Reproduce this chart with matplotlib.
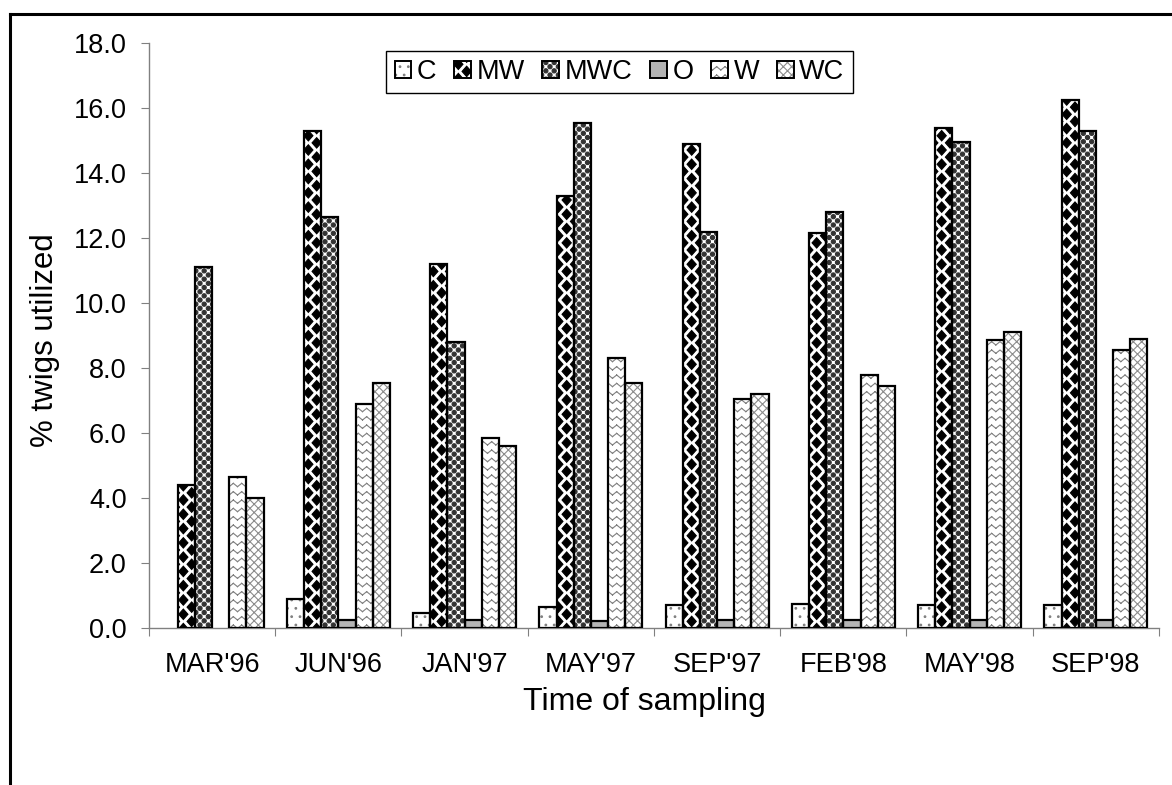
import warnings
import numpy as np
import matplotlib
matplotlib.use('Agg')
import matplotlib.pyplot as plt
from matplotlib import hatch as mhatch
from matplotlib.path import Path
from matplotlib.patches import Patch
from matplotlib.lines import Line2D
from matplotlib.legend_handler import HandlerTuple

warnings.filterwarnings('ignore')  # custom hatch letters raise a deprecation warning

# % twigs utilized per treatment and sampling date
dates = ["MAR'96", "JUN'96", "JAN'97", "MAY'97", "SEP'97", "FEB'98", "MAY'98", "SEP'98"]
treatments = ['C', 'MW', 'MWC', 'O', 'W', 'WC']
C = [np.nan, 0.9, 0.45, 0.65, 0.7, 0.75, 0.7, 0.7]
MW = [4.4, 15.3, 11.2, 13.3, 14.9, 12.15, 15.4, 16.25]
MWC = [11.1, 12.65, 8.8, 15.55, 12.2, 12.8, 14.95, 15.3]
O = [np.nan, 0.25, 0.25, 0.22, 0.25, 0.25, 0.26, 0.25]
W = [4.65, 6.9, 5.85, 8.3, 7.05, 7.8, 8.85, 8.55]
WC = [4.0, 7.55, 5.6, 7.55, 7.2, 7.45, 9.1, 8.9]
series = [C, MW, MWC, O, W, WC]


# --- Excel-like fill patterns, added as extra hatch letters ---
class LatticeHatch(mhatch.HatchPatternBase):
    char, nx, ny = None, 6, 14
    verts, vcodes = None, None

    def __init__(self, hatch, density):
        n = hatch.count(self.char) if hatch else 0
        self.centres = []
        if n:
            nx, ny = self.nx * n, self.ny * n
            for j in range(ny + 1):
                shift = 0.5 if j % 2 else 0.0
                for i in range(nx + 1):
                    self.centres.append(((i + shift) / nx, j / ny))
        self.num_vertices = len(self.centres) * len(self.verts)

    def set_vertices_and_codes(self, vertices, codes):
        k = len(self.verts)
        for m, (x, y) in enumerate(self.centres):
            vertices[m*k:(m+1)*k] = self.verts + (x, y)
            codes[m*k:(m+1)*k] = self.vcodes


class Diamonds(LatticeHatch):
    char, nx, ny = 'D', 6, 14
    verts = np.array([[0, 0.052], [-0.046, 0], [0, -0.052], [0.046, 0], [0, 0.052]])
    vcodes = [Path.MOVETO, Path.LINETO, Path.LINETO, Path.LINETO, Path.CLOSEPOLY]


class Balls(LatticeHatch):
    char, nx, ny = 'B', 12, 24
    verts = Path.unit_circle().vertices * 0.021
    vcodes = Path.unit_circle().codes


class Zigzag(mhatch.HatchPatternBase):
    def __init__(self, hatch, density):
        n = hatch.count('Z') if hatch else 0
        self.segs = []
        if n:
            nx, ny = 12 * n, 12 * n
            amp = 0.4 / ny
            for j in range(ny + 1):
                y = j / ny
                for i in range(nx):
                    x0, x1, x2 = i / nx, (i + 0.5) / nx, (i + 1) / nx
                    self.segs.append(((x0, y), (x1, y - amp)))
                    self.segs.append(((x1, y - amp), (x2, y)))
        self.num_vertices = len(self.segs) * 2

    def set_vertices_and_codes(self, vertices, codes):
        for m, (a, b) in enumerate(self.segs):
            vertices[2*m] = a
            vertices[2*m + 1] = b
            codes[2*m] = Path.MOVETO
            codes[2*m + 1] = Path.LINETO


mhatch._hatch_types.extend([Diamonds, Balls, Zigzag])

faces = ['white', 'white', 'white', '#b4b4b4', 'white', 'white']
hatch_cols = ['#808080', 'black', '#333333', '#b4b4b4', '#808080', '#8c8c8c']
hatches = ['..', 'D', 'B', None, 'Z', 'xxxx']

plt.rcParams['font.family'] = ['Liberation Sans', 'DejaVu Sans']
plt.rcParams['hatch.linewidth'] = 0.8

fig = plt.figure(figsize=(11.72, 7.85), dpi=100)
ax = fig.add_axes([0.1271, 0.2, 0.8618, 0.7452])

x = np.arange(len(dates))
w = 0.136
for i, vals in enumerate(series):
    xs = x + (i - 2.5) * w
    ax.bar(xs, vals, w, color=faces[i], edgecolor=hatch_cols[i], hatch=hatches[i],
           linewidth=0, zorder=3)
    ax.bar(xs, vals, w, fill=False, edgecolor='black', linewidth=1.6, zorder=4)

ax.set_xlim(-0.5, len(dates) - 0.5)
ax.set_ylim(0, 18)
ax.set_yticks(np.arange(0, 18.1, 2))
ax.set_yticklabels(['%.1f' % v for v in np.arange(0, 18.1, 2)])
ax.set_xticks(np.arange(-0.5, len(dates)), [''] * (len(dates) + 1))
ax.set_xticks(x, dates, minor=True)
ax.tick_params(axis='x', which='minor', length=0, pad=17, labelsize=19.5)
ax.tick_params(axis='x', which='major', length=6, color='#808080')
ax.tick_params(axis='y', length=6, color='#808080', pad=10, labelsize=19.5)
for side in ['top', 'right']:
    ax.spines[side].set_visible(False)
for side in ['left', 'bottom']:
    ax.spines[side].set_color('#808080')
    ax.spines[side].set_linewidth(1.0)

ax.set_xlabel('Time of sampling', fontsize=23, va='center')
ax.xaxis.set_label_coords(0.491, -0.1265)
ax.set_ylabel('% twigs utilized', fontsize=22.5, va='center')
ax.yaxis.set_label_coords(-0.103, 0.492)

handles = [(Patch(facecolor=faces[i], edgecolor=hatch_cols[i], hatch=hatches[i], linewidth=0),
            Patch(fill=False, edgecolor='black', linewidth=1.4)) for i in range(len(treatments))]
leg = fig.legend(handles, treatments, loc='center', bbox_to_anchor=(0.5286, 0.908),
                 ncol=6, fontsize=19.5, frameon=True, fancybox=False, framealpha=1,
                 edgecolor='black', handlelength=0.62, handleheight=0.62,
                 handletextpad=0.2, columnspacing=0.66, borderpad=0.3,
                 handler_map={tuple: HandlerTuple(ndivide=1)})
leg.get_frame().set_linewidth(1.0)

# outer chart border (top and left edges are visible in the original)
fig.add_artist(Line2D([10/1172, 10/1172], [0, 1 - 14/785], transform=fig.transFigure,
                      color='black', linewidth=2.2))
fig.add_artist(Line2D([10/1172, 1], [1 - 14/785, 1 - 14/785], transform=fig.transFigure,
                      color='black', linewidth=2.2))

fig.savefig('out.png', dpi=100)
